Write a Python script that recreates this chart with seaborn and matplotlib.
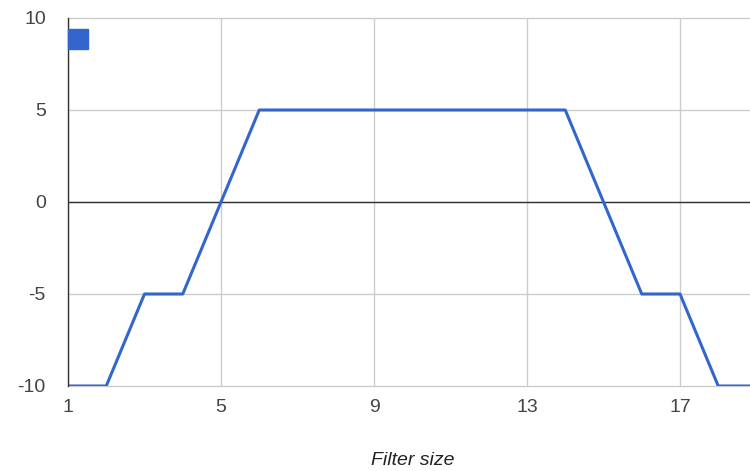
import matplotlib.pyplot as plt
import seaborn as sns
import pandas as pd
from matplotlib.lines import Line2D

# data
filter_size = [1, 2, 3, 4, 5, 6, 7, 8, 9, 10, 11, 12, 13, 14, 15, 16, 17, 18, 19]
score = [-10, -10, -5, -5, 0, 5, 5, 5, 5, 5, 5, 5, 5, 5, 0, -5, -5, -10, -10]
x_ticks = [1, 5, 9, 13, 17]
y_ticks = [-10, -5, 0, 5, 10]

df = pd.DataFrame({'Filter size': filter_size, 'value': score})

sns.set_style('white')
plt.rcParams['font.family'] = ['Liberation Sans', 'DejaVu Sans']
plt.rcParams['axes.unicode_minus'] = False

fig = plt.figure(figsize=(7.5, 4.71), dpi=100)
ax = fig.add_axes([68 / 750, 1 - 386 / 471, 1 - 68 / 750, 368 / 471])

line_color = '#3366cc'
for y in y_ticks:
    ax.axhline(y, color='#cccccc', lw=1, zorder=0, clip_on=False)
for x in x_ticks:
    ax.axvline(x, color='#cccccc', lw=1, zorder=0)
ax.axhline(0, color='#333333', lw=1, zorder=1)

sns.lineplot(data=df, x='Filter size', y='value', color=line_color, lw=2.2, ax=ax, zorder=3)

ax.set_xlim(1, 1 + (750 - 68) / 38.25)
ax.set_ylim(-10, 10)
ax.set_xticks(x_ticks)
ax.set_yticks(y_ticks)
ax.tick_params(length=0, labelsize=14, labelcolor='#444444')
ax.tick_params(axis='y', pad=16)
ax.tick_params(axis='x', pad=9)

for s in ['top', 'right', 'bottom']:
    ax.spines[s].set_visible(False)
ax.spines['left'].set_color('#333333')
ax.spines['left'].set_linewidth(1)
ax.spines['left'].set_zorder(4)

ax.set_ylabel('')
ax.set_xlabel('Filter size', fontsize=14, style='italic', color='#222222')
ax.xaxis.set_label_coords((413 - 68) / 682, -0.18)

handle = Line2D([], [], marker='s', color=line_color, linestyle='none', markersize=14)
ax.legend(handles=[handle], labels=[''], loc='center',
          bbox_to_anchor=((78 - 68) / 682, (386 - 39.5) / 368),
          frameon=False, handlelength=1, handletextpad=0, borderpad=0)

fig.savefig('out.png', dpi=100)
